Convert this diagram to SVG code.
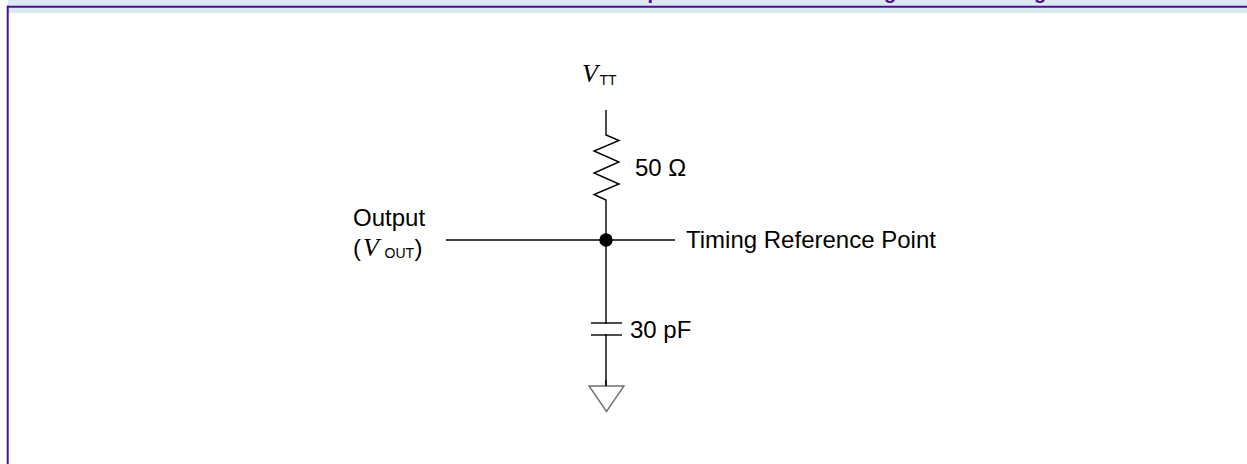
<svg xmlns="http://www.w3.org/2000/svg" width="1247" height="464" viewBox="0 0 1247 464">
<style>
.w{stroke:#000;stroke-width:1.4;fill:none}
.lbl{font-family:"Liberation Sans",Arial,sans-serif;font-size:24px;fill:#000}
.vi{font-family:"Liberation Serif","Times New Roman",serif;font-style:italic;font-size:26px}
.sub{font-size:14px}
.ttl{font-family:"Liberation Sans",Arial,sans-serif;font-weight:bold;font-size:20px;fill:#500E8C}
</style>
<rect x="0" y="0" width="1247" height="464" fill="#fff"/>
<g id="header">
<rect x="8" y="0" width="1239" height="13" fill="#DAE9F2"/>
<text class="ttl" x="647.5" y="-1">p</text>
<text class="ttl" x="884" y="-1">g</text>
<text class="ttl" x="1034" y="-1">g</text>
<line x1="7" y1="6.7" x2="1247" y2="6.7" stroke="#500E8C" stroke-width="2"/>
<line x1="7.7" y1="5.7" x2="7.7" y2="464" stroke="#500E8C" stroke-width="2"/>
</g>
<g id="connectors">
<polyline class="w" points="606,110 606,135 619,140.5 594,151 619,162 594,173 619,184 594,194.5 606,200 606,386"/>
<line class="w" x1="446" y1="240" x2="675" y2="240"/>
</g>
<g id="vtt">
<text class="lbl" x="582" y="82"><tspan class="vi">V</tspan><tspan class="sub" x="599.5" y="85">TT</tspan></text>
</g>
<g id="resistor">
<text class="lbl" x="635" y="176">50 Ω</text>
</g>
<g id="output">
<text class="lbl" x="353" y="226">Output</text>
<text class="lbl" x="353" y="256">(<tspan class="vi" x="363">V</tspan><tspan class="sub" x="384.5" y="258">OUT</tspan><tspan x="414.5" y="256">)</tspan></text>
</g>
<g id="junction">
<circle cx="606" cy="240" r="6.7" fill="#000"/>
</g>
<g id="timing">
<text class="lbl" x="686" y="248">Timing Reference Point</text>
</g>
<g id="capacitor">
<rect x="594" y="324" width="24" height="10" fill="#fff"/>
<line class="w" x1="591" y1="323" x2="622" y2="323"/>
<line class="w" x1="591" y1="335" x2="622" y2="335"/>
<text class="lbl" x="630" y="338">30 pF</text>
</g>
<g id="ground">
<polygon points="589,386 624,386 606.5,411.5" fill="#fff" stroke="#6E6E6E" stroke-width="1.4"/>
<line class="w" x1="606" y1="380" x2="606" y2="386"/>
</g>
</svg>
